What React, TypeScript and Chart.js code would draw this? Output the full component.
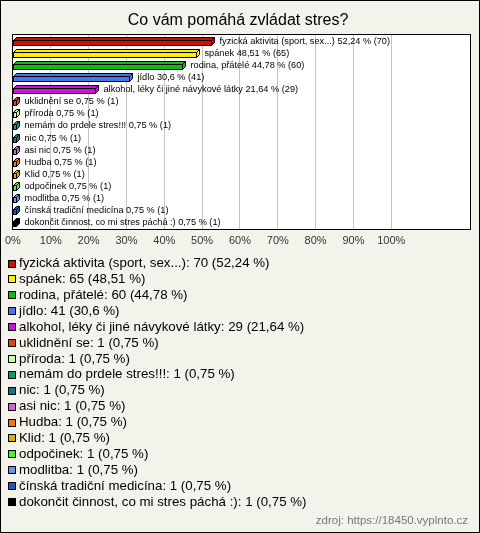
import React, { useEffect, useRef } from "react";
import { Chart, registerables } from "chart.js";

Chart.register(...registerables);

const TITLE = "Co vám pomáhá zvládat stres?";
const SOURCE = "zdroj: https://18450.vyplnto.cz";

const categories = [
  "fyzická aktivita (sport, sex...)",
  "spánek",
  "rodina, přátelé",
  "jídlo",
  "alkohol, léky či jiné návykové látky",
  "uklidnění se",
  "příroda",
  "nemám do prdele stres!!!",
  "nic",
  "asi nic",
  "Hudba",
  "Klid",
  "odpočinek",
  "modlitba",
  "čínská tradiční medicína",
  "dokončit činnost, co mi stres páchá :)",
];

const counts = [70, 65, 60, 41, 29, 1, 1, 1, 1, 1, 1, 1, 1, 1, 1, 1];

const percents = [52.24, 48.51, 44.78, 30.6, 21.64, 0.75, 0.75, 0.75, 0.75, 0.75, 0.75, 0.75, 0.75, 0.75, 0.75, 0.75];

const colors = [
  "#cc1100",
  "#ffee00",
  "#11bb11",
  "#4477ee",
  "#cc11dd",
  "#dd4411",
  "#ccff99",
  "#119966",
  "#117788",
  "#cc66cc",
  "#ee7711",
  "#ddaa11",
  "#55ee33",
  "#6699ee",
  "#2255bb",
  "#000000",
];

const xTickMax = 100;
const xAxisMax = 120.8;

const fmt = (p: number) => String(p).replace(".", ",");

const W = 480;
const H = 533;
const BG = "#f4f3eb";
const FONT = "'Liberation Sans', Arial, sans-serif";

const decorPlugin = {
  id: "decor",
  beforeDraw(chart: any) {
    const ctx = chart.ctx;
    const a = chart.chartArea;
    ctx.save();
    ctx.fillStyle = BG;
    ctx.fillRect(0, 0, W, H);
    ctx.fillStyle = "#ffffff";
    ctx.fillRect(a.left, a.top, a.right - a.left, a.bottom - a.top);
    ctx.restore();
  },
  afterDatasetsDraw(chart: any) {
    const ctx = chart.ctx;
    const meta = chart.getDatasetMeta(0);
    const d = 3;
    ctx.save();
    meta.data.forEach((el: any, i: number) => {
      const p = el.getProps(["x", "y", "base", "height"], true);
      const top = Math.round(p.y - p.height / 2 + 1) + 0.5;
      const bottom = top + Math.round(p.height);
      const left = Math.round(p.base) + 0.5;
      const right = Math.max(Math.round(p.x) + 0.5, left + 3);
      ctx.lineWidth = 1;
      ctx.strokeStyle = "#000";
      ctx.fillStyle = colors[i];
      // front
      ctx.fillRect(left, top, right - left, bottom - top);
      ctx.strokeRect(left, top, right - left, bottom - top);
      // top face
      ctx.beginPath();
      ctx.moveTo(left, top);
      ctx.lineTo(left + d, top - d);
      ctx.lineTo(right + d, top - d);
      ctx.lineTo(right, top);
      ctx.closePath();
      ctx.fill();
      ctx.stroke();
      // right face
      ctx.beginPath();
      ctx.moveTo(right, top);
      ctx.lineTo(right + d, top - d);
      ctx.lineTo(right + d, bottom - d);
      ctx.lineTo(right, bottom);
      ctx.closePath();
      ctx.fill();
      ctx.stroke();
      // label
      ctx.fillStyle = "#000";
      ctx.font = `9.2px ${FONT}`;
      ctx.textBaseline = "middle";
      ctx.textAlign = "left";
      ctx.fillText(
        `${categories[i]} ${fmt(percents[i])} % (${counts[i]})`,
        right + d + 5,
        p.y
      );
    });
    ctx.restore();
  },
  afterDraw(chart: any) {
    const ctx = chart.ctx;
    const a = chart.chartArea;
    ctx.save();
    // plot frame
    ctx.strokeStyle = "#000";
    ctx.lineWidth = 1;
    ctx.strokeRect(Math.round(a.left) - 0.5, Math.round(a.top) - 0.5, Math.round(a.right - a.left) + 1, Math.round(a.bottom - a.top) + 1);
    // title
    ctx.fillStyle = "#000";
    ctx.font = `16px ${FONT}`;
    ctx.textAlign = "center";
    ctx.textBaseline = "alphabetic";
    ctx.fillText(TITLE, 238, 25);
    // legend
    const y0 = 263.5;
    const step = 15.9;
    categories.forEach((c, i) => {
      const y = y0 + i * step;
      ctx.fillStyle = colors[i];
      ctx.fillRect(8.5, Math.round(y - 4) + 0.5, 7, 7);
      ctx.strokeStyle = "#000";
      ctx.strokeRect(8.5, Math.round(y - 4) + 0.5, 7, 7);
      ctx.fillStyle = "#000";
      ctx.font = `13.3px ${FONT}`;
      ctx.textAlign = "left";
      ctx.textBaseline = "middle";
      ctx.fillText(`${c}: ${counts[i]} (${fmt(percents[i])} %)`, 19, y);
    });
    // source
    ctx.fillStyle = "#777";
    ctx.font = `11.5px ${FONT}`;
    ctx.textAlign = "right";
    ctx.textBaseline = "middle";
    ctx.fillText(SOURCE, 468, 521);
    // outer border
    ctx.strokeStyle = "#000";
    ctx.strokeRect(0.5, 0.5, W - 1, H - 1);
    ctx.restore();
  },
};

export default function App() {
  const ref = useRef<HTMLCanvasElement | null>(null);
  useEffect(() => {
    if (!ref.current) return;
    const chart = new Chart(ref.current, {
      type: "bar",
      data: {
        labels: categories,
        datasets: [
          {
            data: percents,
            backgroundColor: "rgba(0,0,0,0)",
            borderWidth: 0,
            barThickness: 5,
          },
        ],
      },
      options: {
        indexAxis: "y",
        responsive: false,
        animation: false,
        devicePixelRatio: 1,
        layout: { padding: { left: 12, top: 35, right: 10, bottom: 282 } },
        plugins: {
          legend: { display: false },
          title: { display: false },
          tooltip: { enabled: false },
        },
        scales: {
          y: { display: false },
          x: {
            min: 0,
            max: xAxisMax,
            afterFit: (s: any) => {
              s.height = 22;
            },
            border: { display: false },
            grid: {
              drawTicks: false,
              color: (c: any) =>
                c.tick && c.tick.value > 0 && c.tick.value <= xTickMax ? "#c4c4c4" : "rgba(0,0,0,0)",
            },
            ticks: {
              stepSize: 10,
              padding: 5,
              color: "#333",
              font: { family: FONT, size: 11 },
              maxRotation: 0,
              autoSkip: false,
              callback: (v: any) => (Number(v) <= xTickMax && Number(v) % 10 === 0 ? `${v}%` : ""),
            },
          },
        },
      },
      plugins: [decorPlugin],
    });
    return () => chart.destroy();
  }, []);
  return (
    <div style={{ position: "absolute", left: 0, top: 0, width: W, height: H }}>
      <canvas ref={ref} width={W} height={H} style={{ display: "block", width: W, height: H }} />
    </div>
  );
}
